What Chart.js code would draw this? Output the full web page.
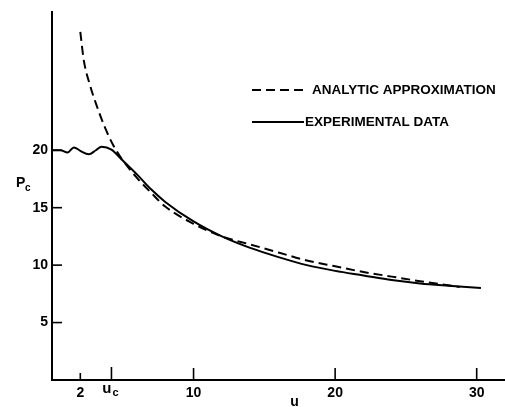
<!DOCTYPE html>
<html>
<head>
<meta charset="utf-8">
<script src="https://cdn.jsdelivr.net/npm/chart.js@4.4.1/dist/chart.umd.min.js"></script>
<style>
  html, body { margin: 0; padding: 0; background: #fff; }
  #wrap { width: 505px; height: 407px; }
</style>
</head>
<body>
<div id="wrap"><canvas id="chart" width="505" height="407"></canvas></div>
<script>
// =====================
// DATA
// =====================
const uExp  = [0, 0.6, 1.1, 1.55, 2.0, 2.6, 3.1, 3.5, 4.2, 5.0, 6, 7, 8, 10, 12, 14, 16, 18, 20, 22, 24, 26, 28, 30.3]
const pcExp = [20.0, 20.0, 19.8, 20.25, 19.95, 19.65, 20.0, 20.3, 20.05, 19.1, 17.9, 16.6, 15.5, 13.8, 12.5, 11.5, 10.7, 10.0, 9.5, 9.1, 8.7, 8.4, 8.2, 8.0]

const uAna  = [2.0, 2.25, 2.7, 3.15, 3.7, 4.3, 4.9, 6, 7, 8, 10, 12, 14, 16, 18, 20, 22, 24, 26, 28.8]
const pcAna = [30.3, 27.8, 25.6, 23.9, 22.1, 20.5, 19.3, 17.6, 16.3, 15.1, 13.6, 12.5, 11.8, 11.1, 10.4, 9.9, 9.4, 9.0, 8.6, 8.1]

const uc = 4.2
const xTicks = [2, uc, 10, 20, 30]
const yTicks = [5, 10, 15, 20]

const labelAna = "ANALYTIC APPROXIMATION"
const labelExp = "EXPERIMENTAL DATA"

const FONT = "'Liberation Sans', Arial, sans-serif"

function pairs(xs, ys){ return xs.map((x, i) => ({x, y: ys[i]})) }

// =====================
// EXTRA DRAWING: inward ticks, u_c, axis titles, legend
// =====================
const extras = {
  id: "extras",
  afterDraw(chart){
    const ctx = chart.ctx
    const xs = chart.scales.x, ys = chart.scales.y
    const a = chart.chartArea
    ctx.save()
    ctx.strokeStyle = "#000"
    ctx.lineWidth = 1.6
    // x ticks point up into the plot
    xTicks.forEach(v => {
      const px = xs.getPixelForValue(v)
      const len = v === 2 ? 7 : (v === uc ? 13 : 12)
      ctx.beginPath(); ctx.moveTo(px, a.bottom); ctx.lineTo(px, a.bottom - len); ctx.stroke()
    })
    // y ticks point right
    yTicks.forEach(v => {
      const py = ys.getPixelForValue(v)
      ctx.beginPath(); ctx.moveTo(a.left, py); ctx.lineTo(a.left + 10, py); ctx.stroke()
    })

    ctx.fillStyle = "#000"
    ctx.textBaseline = "middle"
    // u_c tick label
    const ucx = xs.getPixelForValue(uc)
    ctx.font = "bold 15px " + FONT
    ctx.textAlign = "right"
    ctx.fillText("u", ucx, 389)
    ctx.font = "bold 11px " + FONT
    ctx.textAlign = "left"
    ctx.fillText("c", ucx + 1, 393)

    // axis titles
    ctx.font = "bold 14px " + FONT
    ctx.textAlign = "center"
    ctx.fillText("u", (a.left + a.right) / 2 + 16, 402)
    ctx.textAlign = "left"
    ctx.fillText("P", 16, 183)
    ctx.font = "bold 10px " + FONT
    ctx.fillText("c", 25, 188)

    // legend
    const items = [
      {ds: chart.data.datasets[0], y: 90, x0: 252, x1: 308, tx: 312},
      {ds: chart.data.datasets[1], y: 122, x0: 252, x1: 304, tx: 305}
    ]
    items.forEach(it => {
      ctx.lineWidth = it.ds.borderWidth
      ctx.setLineDash(it.ds.borderDash || [])
      ctx.beginPath(); ctx.moveTo(it.x0, it.y); ctx.lineTo(it.x1, it.y); ctx.stroke()
      ctx.setLineDash([])
      ctx.font = "bold 13.5px " + FONT
      ctx.textAlign = "left"
      ctx.fillText(it.ds.label, it.tx, it.y)
    })
    ctx.restore()
  }
}

// =====================
// CHART
// =====================
new Chart(document.getElementById("chart"), {
  type: "line",
  data: {
    datasets: [
      {
        label: labelAna,
        data: pairs(uAna, pcAna),
        borderColor: "#000",
        borderWidth: 2,
        borderDash: [9, 5],
        pointRadius: 0,
        cubicInterpolationMode: "monotone",
        fill: false
      },
      {
        label: labelExp,
        data: pairs(uExp, pcExp),
        borderColor: "#000",
        borderWidth: 2,
        pointRadius: 0,
        cubicInterpolationMode: "monotone",
        fill: false
      }
    ]
  },
  options: {
    responsive: false,
    animation: false,
    layout: { padding: { top: 8, right: 0, left: 0, bottom: 0 } },
    plugins: { legend: { display: false }, tooltip: { enabled: false } },
    scales: {
      x: {
        type: "linear",
        min: 0, max: 32,
        border: { color: "#000", width: 2 },
        grid: { display: false, drawTicks: false },
        afterBuildTicks: s => { s.ticks = xTicks.map(v => ({value: v})) },
        afterFit: s => { s.height = 27 },
        ticks: {
          padding: 5,
          color: "#000",
          maxRotation: 0,
          autoSkip: false,
          font: { family: FONT, size: 14, weight: "bold" },
          callback: v => v === uc ? "" : String(v)
        }
      },
      y: {
        min: 0, max: 32,
        border: { color: "#000", width: 2 },
        grid: { display: false, drawTicks: false },
        afterBuildTicks: s => { s.ticks = yTicks.map(v => ({value: v})) },
        afterFit: s => { s.width = 52 },
        ticks: {
          padding: 4,
          color: "#000",
          autoSkip: false,
          font: { family: FONT, size: 14, weight: "bold" }
        }
      }
    }
  },
  plugins: [extras]
})
</script>
</body>
</html>
